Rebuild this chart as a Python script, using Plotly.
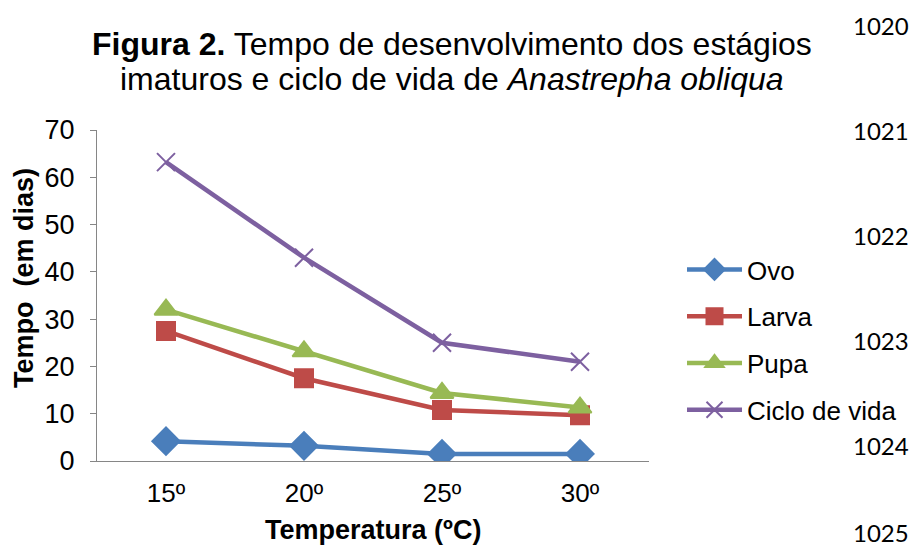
import plotly.graph_objects as go

categories = ["15º", "20º", "25º", "30º"]
ovo = [4.2, 3.2, 1.5, 1.5]
larva = [27.5, 17.5, 10.8, 9.7]
pupa = [32.0, 23.2, 14.4, 11.3]
ciclo = [63.2, 43.0, 25.0, 21.0]
line_numbers = ["1020", "1021", "1022", "1023", "1024", "1025"]

FONT = "Liberation Sans, Arial, sans-serif"

fig = go.Figure()
series = [
    ("Ovo", ovo, "#4A7EBB", "diamond", 21),
    ("Larva", larva, "#BE4B48", "square", 18),
    ("Pupa", pupa, "#98B954", "triangle-up", 20),
    ("Ciclo de vida", ciclo, "#7D60A0", "x-thin-open", 18),
]
for i, (name, vals, color, sym, size) in enumerate(series):
    fig.add_trace(go.Scatter(
        x=categories, y=vals, name=name, mode="lines+markers",
        line=dict(color=color, width=4.5),
        marker=dict(symbol=sym, size=size, color=color,
                    line=dict(color=color, width=2)),
        legendgroup=f"g{i}",
    ))

W, H = 915, 546
L, R, T, B = 97, 266, 130, 85
pw = W - L - R
ph = H - T - B


def px(x):
    return (x - L) / pw


def py(y):
    return (H - B - y) / ph


annotations = []
for k, txt in enumerate(line_numbers):
    yy = min(25 + 105 * k, 532)
    annotations.append(dict(
        text=txt, xref="paper", yref="paper",
        x=px(881), y=py(yy),
        xanchor="center", yanchor="middle", showarrow=False,
        font=dict(family="Lato, Carlito, sans-serif", size=24, color="black"),
    ))

title_lines = [
    ("<b>Figura 2.</b> Tempo de desenvolvimento dos estágios", 44),
    ("imaturos e ciclo de vida de <i>Anastrepha obliqua</i>", 79),
]
for txt, yy in title_lines:
    annotations.append(dict(
        text=txt, xref="paper", yref="paper",
        x=px(452), y=py(yy),
        xanchor="center", yanchor="middle", showarrow=False,
        font=dict(family=FONT, size=32, color="black"),
    ))

annotations.append(dict(
    text="<b>Temperatura (ºC)</b>", xref="paper", yref="paper",
    x=px(373), y=py(530), xanchor="center", yanchor="middle", showarrow=False,
    font=dict(family=FONT, size=27, color="black"),
))
annotations.append(dict(
    text="<b>Tempo  (em dias)</b>", xref="paper", yref="paper",
    x=px(24), y=py(278), xanchor="center", yanchor="middle", showarrow=False,
    textangle=-90,
    font=dict(family=FONT, size=27, color="black"),
))

fig.update_layout(
    width=W, height=H,
    margin=dict(l=L, r=R, t=T, b=B),
    paper_bgcolor="white", plot_bgcolor="white",
    font=dict(family=FONT, color="black"),
    xaxis=dict(
        type="category", range=[-0.5, 3.5], automargin=False,
        showline=True, linecolor="#868686", linewidth=1,
        ticks="", showgrid=False, zeroline=False,
        tickfont=dict(size=26, family=FONT), ticklabelstandoff=9,
    ),
    yaxis=dict(
        range=[0, 70], dtick=10, automargin=False,
        showline=True, linecolor="#868686", linewidth=1,
        ticks="outside", ticklen=6, tickcolor="#868686",
        showgrid=False, zeroline=False,
        tickfont=dict(size=27, family=FONT), ticklabelstandoff=10,
    ),
    legend=dict(
        xref="container", yref="container",
        x=682 / W, xanchor="left",
        y=1 - 246 / H, yanchor="top",
        font=dict(size=26, family=FONT),
        itemwidth=55, tracegroupgap=10,
        bgcolor="rgba(0,0,0,0)",
    ),
    annotations=annotations,
    showlegend=True,
)

fig.write_html("out.html")
